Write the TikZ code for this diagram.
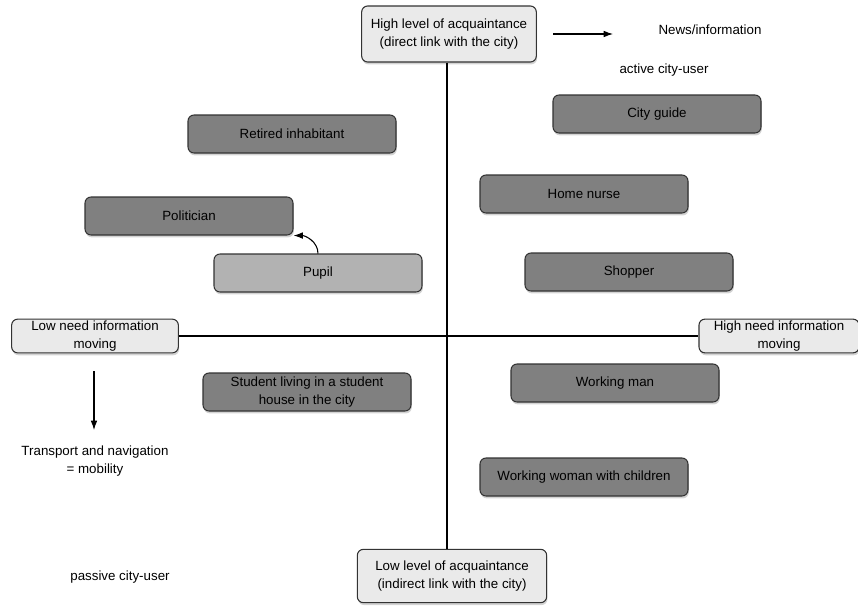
\documentclass[tikz,border=0pt]{standalone}
\usepackage{fontspec}
\setmainfont{Liberation Sans}
\usepackage{tikz}
\usetikzlibrary{shadows,arrows.meta}
\definecolor{boxdark}{HTML}{808080}
\definecolor{boxmid}{HTML}{B2B2B2}
\definecolor{boxlight}{HTML}{EAEAEA}
\tikzset{
  persona/.style={draw=black!80, thick, rounded corners=4.5pt, fill=boxdark,
    minimum width=156pt, minimum height=28.5pt, align=center, inner sep=1pt,
    drop shadow={shadow xshift=0.6pt, shadow yshift=-1.8pt, opacity=0.35}},
  axisbox/.style={draw=black!80, thick, rounded corners=4.5pt, fill=boxlight,
    align=center, inner sep=1pt,
    drop shadow={shadow xshift=0.6pt, shadow yshift=-1.8pt, opacity=0.35}},
  plain/.style={align=center, inner sep=1pt},
  pointer/.style={thick, -{Latex[length=7pt,width=5pt]}}
}
\begin{document}
\begin{tikzpicture}[x=0.75pt, y=-0.75pt, font=\fontsize{10}{14}\selectfont]
            \clip (0,0) rectangle (858,607);
            \useasboundingbox (0,0) rectangle (858,607);
            % axes ends
            \node[axisbox, minimum width=131pt, minimum height=42pt] (highacq) at (449,34) {High level of acquaintance\\(direct link with the city)};
            \node[axisbox, minimum width=142pt, minimum height=40pt] (lowacq) at (452,576) {Low level of acquaintance\\(indirect link with the city)};
            \node[axisbox, minimum width=125pt, minimum height=24pt] (lowneed) at (95,336) {Low need information\\moving};
            \node[axisbox, minimum width=120pt, minimum height=24pt] (highneed) at (779,336) {High need information\\moving};
            \draw[thick] (highacq.south -| 447,0) -- (lowacq.north -| 447,0);
            \draw[thick] (lowneed) -- (highneed);
            % side texts
            \node[plain] (news) at (710,30) {News/information};
            \node[plain] (active) at (664,70) {active city-user};
            \node[plain] (transport) at (95,461) {Transport and navigation\\= mobility};
            \node[plain] (passive) at (120,577) {passive city-user};
            \coordinate (newsstart) at (553,34);
            \coordinate (newsend) at (613,34);
            \draw[pointer] (newsstart) -- (newsend);
            \coordinate (mobstart) at (94,371);
            \coordinate (mobend) at (94,430);
            \draw[pointer] (mobstart) -- (mobend);
            % personas
            \node[persona] (cityguide) at (657,114) {City guide};
            \node[persona] (retired) at (292,134) {Retired inhabitant};
            \node[persona] (nurse) at (584,194) {Home nurse};
            \node[persona] (politician) at (189,216) {Politician};
            \node[persona, fill=boxmid] (pupil) at (318,273) {Pupil};
            \node[persona] (shopper) at (629,272) {Shopper};
            \node[persona] (student) at (307,392) {Student living in a student\\house in the city};
            \node[persona] (workman) at (615,383) {Working man};
            \node[persona] (workwoman) at (584,477) {Working woman with children};
            \draw[pointer] (pupil.north) to[out=90, in=0] (politician.south east);
        \end{tikzpicture}
\end{document}
